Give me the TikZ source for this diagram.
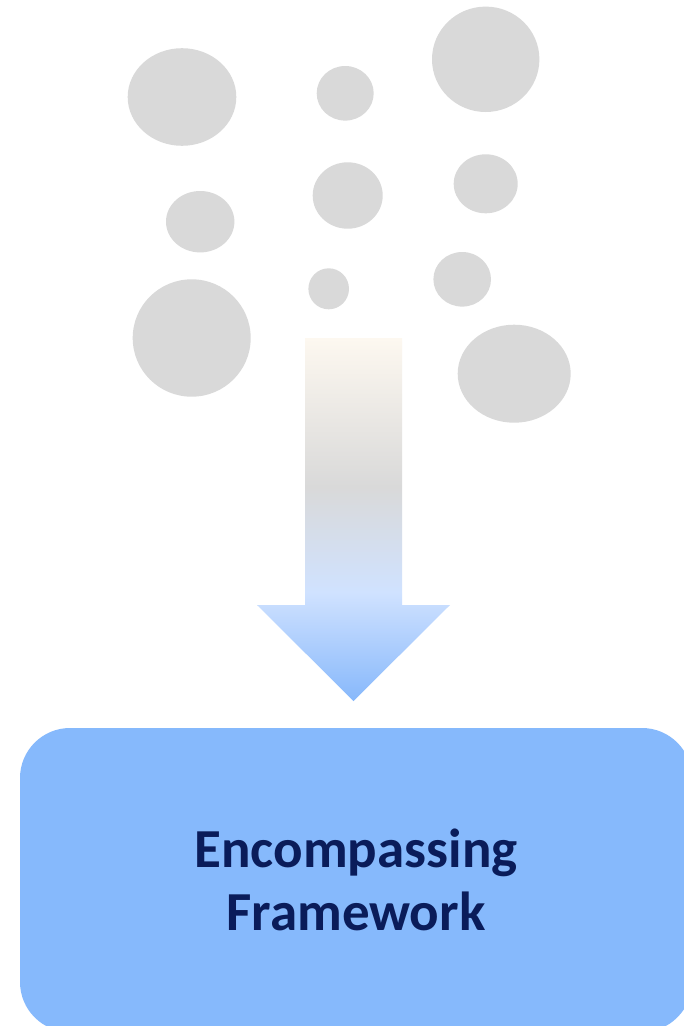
\documentclass[tikz,border=0pt]{standalone}
\usepackage{fontspec}
\setmainfont{Carlito}
\definecolor{bubble}{RGB}{217,217,217}
\definecolor{boxblue}{RGB}{134,185,252}
\definecolor{navy}{RGB}{10,28,90}
\definecolor{creamc}{RGB}{253,248,240}
\definecolor{greyc}{RGB}{217,217,217}
\definecolor{lightb}{RGB}{208,226,255}
\definecolor{tipb}{RGB}{135,184,251}
\pgfdeclareverticalshading{arrowshade}{100bp}{color(0bp)=(tipb); color(25bp)=(tipb); color(40bp)=(lightb); color(54.5bp)=(greyc); color(75bp)=(creamc); color(100bp)=(creamc)}
\tikzset{
  bub/.style={fill=bubble, draw=none},
  framebox/.style={fill=boxblue, draw=none, rounded corners=50pt, minimum width=672pt, minimum height=304pt, align=center, text=navy, font=\bfseries\fontsize{55}{63}\selectfont}
}
\begin{document}
\begin{tikzpicture}[x=1pt,y=-1pt]
\useasboundingbox (0,0) rectangle (684,1026);
\fill[white] (0,0) rectangle (684,1026);
\clip (0,0) rectangle (684,1026);
% bubbles
\fill[bub] (182,97) ellipse [x radius=54.3, y radius=48.8];
\fill[bub] (345.2,93.3) ellipse [x radius=28.5, y radius=27.3];
\fill[bub] (485.7,59.3) ellipse [x radius=53.7, y radius=52.7];
\fill[bub] (200.2,221.7) ellipse [x radius=34.2, y radius=30.7];
\fill[bub] (347.7,195.5) ellipse [x radius=35, y radius=33.2];
\fill[bub] (485.7,183.8) ellipse [x radius=32, y radius=29.5];
\fill[bub] (191.7,338) ellipse [x radius=59, y radius=58.7];
\fill[bub] (328.7,288.8) ellipse [x radius=20.3, y radius=20.5];
\fill[bub] (462.2,279.3) ellipse [x radius=28.8, y radius=27.3];
\fill[bub] (514.2,373.7) ellipse [x radius=56.5, y radius=49];
% arrow
\shade[shading=arrowshade] (305,338) -- (402,338) -- (402,605) -- (450,605) -- (353.5,701) -- (257,605) -- (305,605) -- cycle;
% box
\node[framebox] (fw) at (356,880) {Encompassing\\Framework};
\end{tikzpicture}
\end{document}
